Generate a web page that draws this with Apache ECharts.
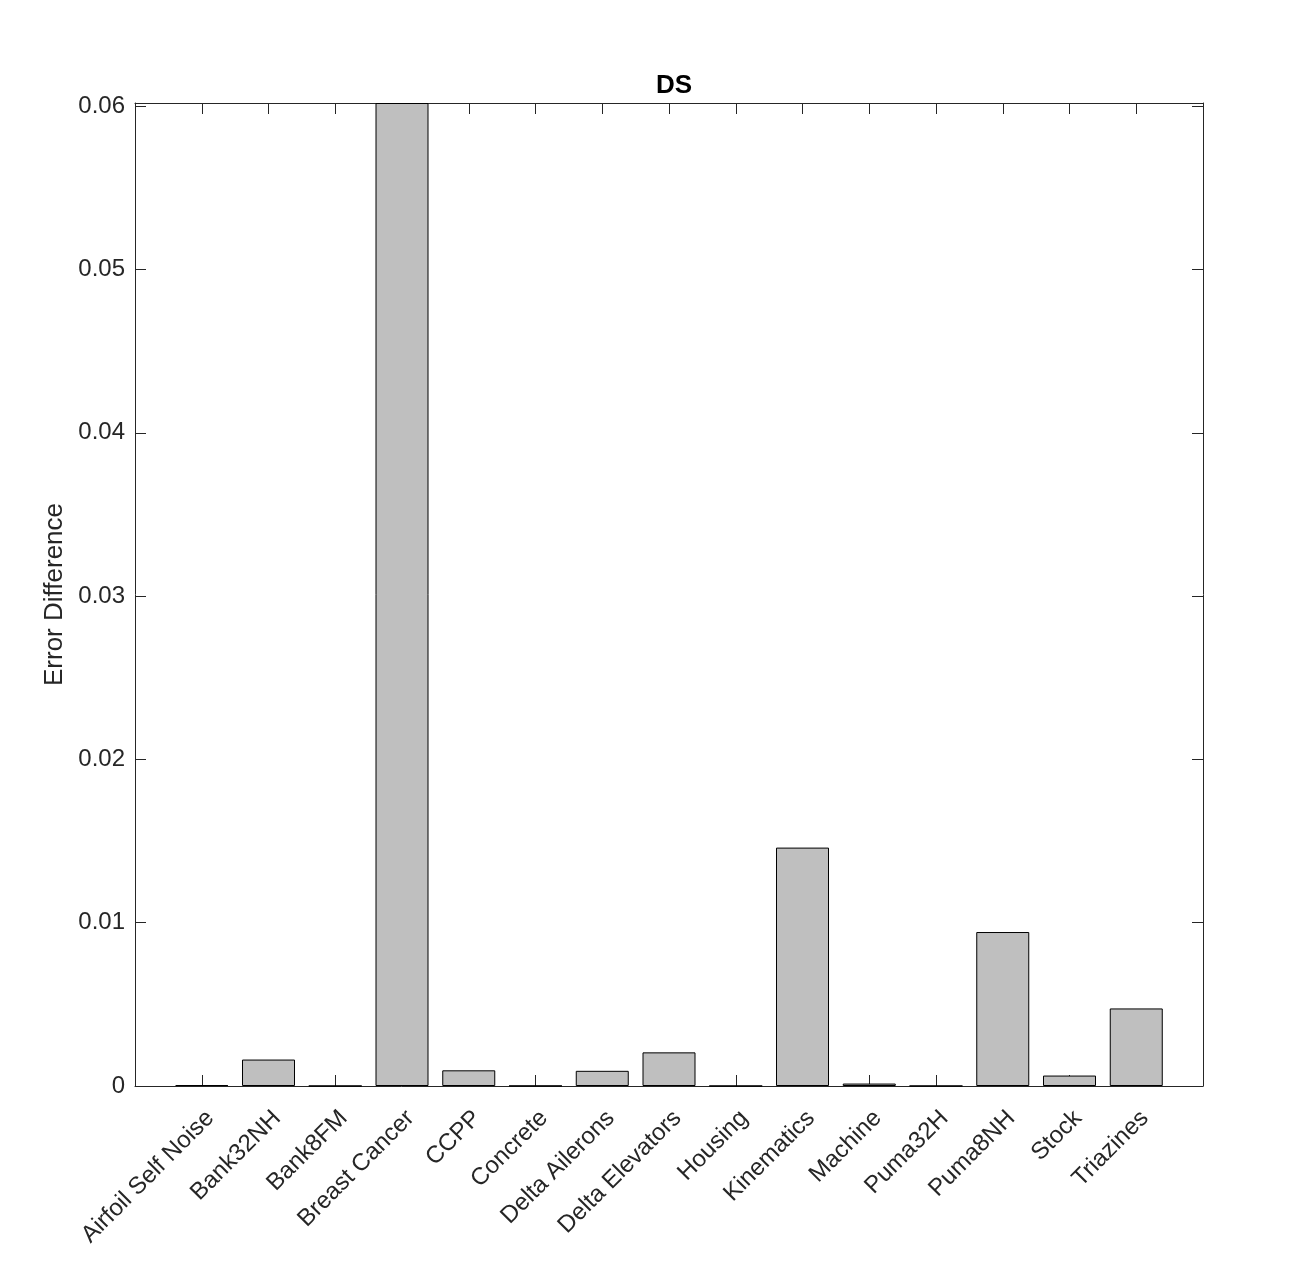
<!DOCTYPE html>
<html>
<head>
<meta charset="utf-8">
<script src="https://cdn.jsdelivr.net/npm/echarts@6/dist/echarts.min.js"></script>
<style>html,body{margin:0;padding:0;background:#fff;}#c{width:1290px;height:1261px;}</style>
</head>
<body>
<div id="c"></div>
<script>
const categories = ['Airfoil Self Noise','Bank32NH','Bank8FM','Breast Cancer','CCPP','Concrete','Delta Ailerons','Delta Elevators','Housing','Kinematics','Machine','Puma32H','Puma8NH','Stock','Triazines'];
const values = [0.00006, 0.00162, 0.000005, 0.0602, 0.00096, 0.00001, 0.00093, 0.00206, 0.000005, 0.0146, 0.00015, 0.000005, 0.00943, 0.00064, 0.00475];
const yTicks = [0, 0.01, 0.02, 0.03, 0.04, 0.05, 0.06];
const xPositions = categories.map((c, i) => i + 1);

const FONT = 'Liberation Sans, Arial, Helvetica, sans-serif';
const AX = '#262626';
const chart = echarts.init(document.getElementById('c'), null, {renderer: 'canvas'});

const xBase = {
  type: 'value', min: 0, max: 16,
  axisLine: {show: true, onZero: false, lineStyle: {color: AX, width: 1}},
  axisTick: {show: true, inside: true, length: 11, customValues: xPositions, lineStyle: {color: AX, width: 1}},
  splitLine: {show: false}
};
const yBase = {
  type: 'value', min: 0, max: 0.0602,
  axisLine: {show: true, onZero: false, lineStyle: {color: AX, width: 1}},
  axisTick: {show: true, inside: true, length: 11, customValues: yTicks, lineStyle: {color: AX, width: 1}},
  splitLine: {show: false}
};

chart.setOption({
  animation: false,
  backgroundColor: '#ffffff',
  title: {
    text: 'DS', left: 669, top: 68, textAlign: 'center',
    textStyle: {fontFamily: FONT, fontSize: 26, fontWeight: 'bold', color: '#000'}
  },
  grid: {left: 135, right: 87, top: 103, bottom: 175, containLabel: false},
  xAxis: [
    Object.assign({}, xBase, {
      position: 'bottom',
      axisLabel: {
        show: true, customValues: xPositions, rotate: 45, margin: 20,
        align: 'right', verticalAlign: 'top',
        fontFamily: FONT, fontSize: 24, color: AX,
        formatter: v => categories[Math.round(v) - 1] || ''
      }
    }),
    Object.assign({}, xBase, {position: 'top', axisLabel: {show: false}})
  ],
  yAxis: [
    Object.assign({}, yBase, {
      position: 'left',
      name: 'Error Difference', nameLocation: 'middle', nameGap: 66, nameRotate: 90,
      nameTextStyle: {fontFamily: FONT, fontSize: 26, color: AX},
      axisLabel: {
        show: true, customValues: yTicks, margin: 10,
        fontFamily: FONT, fontSize: 24, color: AX,
        formatter: v => String(v)
      }
    }),
    Object.assign({}, yBase, {position: 'right', axisLabel: {show: false}})
  ],
  series: [{
    type: 'bar',
    xAxisIndex: 0, yAxisIndex: 0,
    barWidth: 53,
    data: values.map((v, i) => [xPositions[i], v]),
    itemStyle: {color: '#bfbfbf', borderColor: '#000000', borderWidth: 1},
    clip: true
  }]
});
</script>
</body>
</html>
